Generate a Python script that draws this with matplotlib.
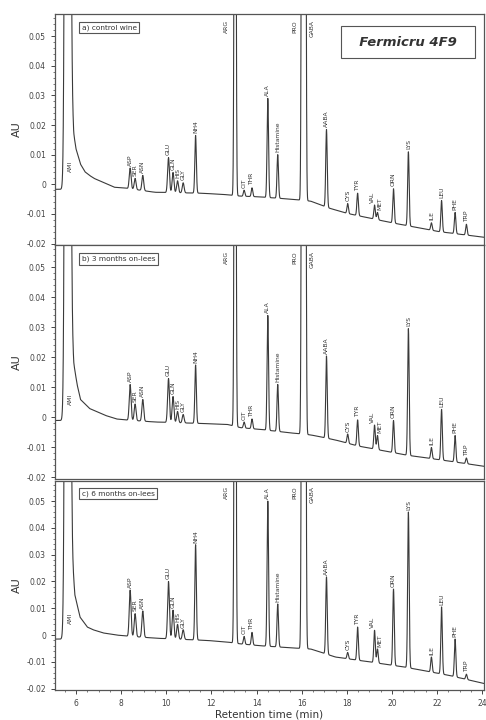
import numpy as np
import matplotlib
matplotlib.use("Agg")
import matplotlib.pyplot as plt
from matplotlib.ticker import MultipleLocator, FuncFormatter

# peak names and retention times (min)
names = ["ASP", "SER", "ASN", "GLU", "GLN", "HIS", "GLY", "NH4", "ARG", "CIT", "THR",
         "ALA", "Histamine", "PRO", "GABA", "AABA", "CYS", "TYR", "VAL", "MET", "ORN",
         "LYS", "ILE", "LEU", "PHE", "TRP"]
rt = [8.40, 8.62, 8.96, 10.10, 10.30, 10.50, 10.75, 11.30, 13.05, 13.45, 13.80,
      14.50, 14.94, 16.03, 16.15, 17.10, 18.04, 18.48, 19.23, 19.36, 20.07,
      20.73, 21.75, 22.20, 22.80, 23.30]

# apex values (AU); 0.3 = off scale
apex_a = [0.0055, 0.002, 0.003, 0.009, 0.004, 0.0012, 0.0005, 0.0165, 0.3, -0.002, -0.0012,
          0.029, 0.010, 0.3, 0.3, 0.0185, -0.0065, -0.003, -0.007, -0.0095, -0.0015,
          0.011, -0.013, -0.0055, -0.0095, -0.0135]
apex_b = [0.011, 0.0045, 0.006, 0.013, 0.007, 0.002, 0.001, 0.0175, 0.3, -0.0015, -0.0005,
          0.034, 0.011, 0.3, 0.3, 0.0205, -0.0055, -0.0008, -0.0025, -0.006, -0.001,
          0.0297, -0.010, 0.0027, -0.006, -0.0135]
apex_c = [0.0168, 0.008, 0.009, 0.020, 0.0093, 0.004, 0.002, 0.0337, 0.3, -0.0005, 0.001,
          0.050, 0.0116, 0.3, 0.3, 0.0217, -0.0065, 0.003, 0.0018, -0.0052, 0.0172,
          0.046, -0.0082, 0.0105, -0.0015, -0.0146]

# baseline (drift + solvent tail) read at a few times
base_t_a = [5.0, 5.6, 5.82, 5.9, 6.0, 6.2, 6.4, 6.6, 6.8, 7.1, 7.7, 8.2, 9.5, 11.5, 12.5,
            13.3, 14.0, 15.5, 16.4, 17.2, 18.0, 20.0, 22.1, 24.2]
base_v_a = [-0.0017, -0.0017, 0.028, 0.017, 0.012, 0.0068, 0.0042, 0.003, 0.002, 0.001,
            -0.001, -0.0013, -0.0027, -0.003, -0.0034, -0.004, -0.0042, -0.005, -0.0057,
            -0.008, -0.0098, -0.013, -0.016, -0.018]
base_t_b = [5.0, 5.6, 5.82, 5.9, 6.05, 6.2, 6.6, 7.3, 7.8, 8.2, 9.5, 11.6, 12.7, 13.3,
            14.2, 15.6, 16.4, 17.5, 18.5, 20.7, 22.5, 24.2]
base_v_b = [-0.001, -0.001, 0.028, 0.018, 0.011, 0.006, 0.003, 0.0007, -0.0005, -0.0008,
            -0.0015, -0.002, -0.0023, -0.0034, -0.004, -0.0052, -0.0058, -0.0075, -0.0095,
            -0.0126, -0.0145, -0.0164]
base_t_c = [5.0, 5.6, 5.82, 5.95, 6.18, 6.5, 6.75, 7.2, 7.8, 8.3, 9.6, 11.8, 12.7, 13.3,
            14.2, 15.6, 16.4, 17.5, 19.0, 20.6, 22.5, 24.2]
base_v_c = [-0.0015, -0.0015, 0.03, 0.015, 0.0067, 0.003, 0.002, 0.0008, 0.0, -0.0004,
            -0.0012, -0.002, -0.0026, -0.0033, -0.004, -0.0048, -0.0052, -0.0082, -0.010,
            -0.012, -0.015, -0.0183]

panel_titles = ["a) control wine", "b) 3 months on-lees", "c) 6 months on-lees"]
apexes = [apex_a, apex_b, apex_c]
bases = [(base_t_a, base_v_a), (base_t_b, base_v_b), (base_t_c, base_v_c)]

line_col = "#3a3a3a"
W, H = 486, 720
fig = plt.figure(figsize=(W / 100, H / 100), dpi=100)

# panel pixel extents (top, bottom)
boxes = [(14, 245), (245, 479), (481, 690)]
left, right = 55, 484

t = np.arange(5.0, 24.2, 0.004)
off_scale = {"ARG": (-0.4, 0.0555), "PRO": (-0.35, 0.0555), "GABA": (0.32, 0.0555)}
nudge = {"VAL": -0.1, "MET": 0.1}

for i in range(3):
    top, bot = boxes[i]
    ax = fig.add_axes([left / W, 1 - bot / H, (right - left) / W, (bot - top) / H])
    bt, bv = bases[i]
    y = np.interp(t, bt, bv)
    # solvent front
    y = y + 1.0 * np.exp(-(t - 5.63) ** 2 / (2 * 0.07 ** 2))
    for name, r, a in zip(names, rt, apexes[i]):
        h = a - np.interp(r, bt, bv)
        s = 0.04 if r < 11 else 0.033
        y = y + h * np.exp(-(t - r) ** 2 / (2 * s ** 2))
    ax.plot(t, y, color=line_col, lw=0.8)

    for name, r, a in zip(names, rt, apexes[i]):
        if name in off_scale:
            dx, yy = off_scale[name]
            ax.text(r + dx, yy, name, rotation=90, ha="center", va="top",
                    fontsize=4.3, color="#333333")
        else:
            ax.text(r + nudge.get(name, 0), a + 0.0008, name, rotation=90, ha="center",
                    va="bottom", fontsize=4.3, color="#333333")
    ax.text(5.75, 0.004, "AMI", rotation=90, ha="center", va="bottom",
            fontsize=4.3, color="#333333")

    ax.set_xlim(5.07, 24.08)
    ax.set_ylim(-0.0205, 0.0575)
    ax.yaxis.set_major_locator(MultipleLocator(0.01))
    ax.yaxis.set_minor_locator(MultipleLocator(0.002))
    ax.yaxis.set_major_formatter(FuncFormatter(lambda v, p: "0" if abs(v) < 1e-9 else f"{v:.2f}"))
    ax.xaxis.set_major_locator(MultipleLocator(2))
    ax.xaxis.set_minor_locator(MultipleLocator(0.5))
    ax.tick_params(axis="y", which="major", direction="out", length=3, width=0.7,
                   labelsize=5.5, colors="#444444")
    ax.tick_params(axis="y", which="minor", direction="out", length=1.5, width=0.5,
                   colors="#444444")
    for sp in ax.spines.values():
        sp.set_color("#555555")
        sp.set_linewidth(0.9)
    if i < 2:
        ax.tick_params(axis="x", which="both", bottom=False, labelbottom=False)
    else:
        ax.tick_params(axis="x", which="major", direction="out", length=3, width=0.7,
                       labelsize=5.5, colors="#444444")
        ax.tick_params(axis="x", which="minor", direction="out", length=1.5, width=0.5,
                       colors="#444444")
        ax.set_xlabel("Retention time (min)", fontsize=7.5, color="#333333", labelpad=1)
    ax.set_ylabel("AU", fontsize=8, color="#333333", labelpad=3)

    ax.text(0.062, 0.955, panel_titles[i], transform=ax.transAxes, ha="left", va="top",
            fontsize=5.3, color="#333333",
            bbox=dict(boxstyle="square,pad=0.35", fc="white", ec="#555555", lw=0.8))
    if i == 0:
        ax.text(0.823, 0.878, "  Fermicru 4F9  ", transform=ax.transAxes, ha="center",
                va="center", fontsize=9.5, fontweight="bold", style="italic",
                color="#333333",
                bbox=dict(boxstyle="square,pad=0.7", fc="white", ec="#555555", lw=0.8))

fig.savefig("out.png", dpi=100)
